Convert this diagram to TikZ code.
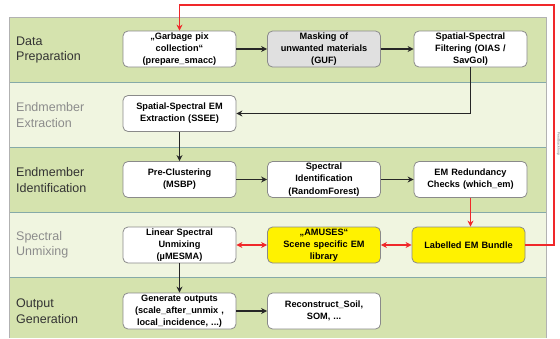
\documentclass[tikz,border=0pt]{standalone}
\usepackage{fontspec}
\setmainfont{Liberation Sans}
\setsansfont{Liberation Sans}
\usetikzlibrary{arrows.meta}
\definecolor{banddark}{HTML}{D5E3AE}
\definecolor{bandlight}{HTML}{F0F5E0}
\definecolor{bandline}{HTML}{86AAA8}
\definecolor{boxline}{HTML}{8A8A8A}
\definecolor{redline}{HTML}{F0282A}
\tikzset{
  proc/.style={draw=boxline, line width=0.8pt, rounded corners=5pt, fill=white,
    minimum width=113pt, minimum height=36pt, text width=110pt, align=center,
    font=\fontsize{9.2}{12.2}\selectfont\bfseries, inner sep=0pt},
  graybox/.style={proc, fill=black!12},
  yellowbox/.style={proc, fill=yellow},
  lab/.style={anchor=west, align=left, font=\fontsize{12.5}{15.5}\selectfont, inner sep=0pt},
  flow/.style={draw=black!85, line width=1.1pt, -{Stealth[length=6pt,width=6pt]}},
  rflow/.style={draw=redline, line width=1.1pt, -{Stealth[length=6pt,width=6pt]}},
  rdbl/.style={draw=redline, line width=1.1pt, {Stealth[length=6pt,width=6pt]}-{Stealth[length=6pt,width=6pt]}},
}
\begin{document}
\begin{tikzpicture}[x=1pt,y=-1pt]
\useasboundingbox (0,0) rectangle (560,338);
% bands
\fill[banddark] (9,17) rectangle (546,82);
\fill[bandlight] (9,82) rectangle (546,147);
\fill[banddark] (9,147) rectangle (546,212);
\fill[bandlight] (9,212) rectangle (546,277);
\fill[banddark] (9,277) rectangle (546,338);
\draw[bandline, line width=1pt] (9,82) -- (546,82) (9,147) -- (546,147) (9,212) -- (546,212) (9,277) -- (546,277);
\draw[black!30, line width=0.8pt] (9,338) -- (9,17) -- (546,17) -- (546,338);
% labels
\node[lab, text=black!80] (l1) at (16,50) {Data\\Preparation};
\node[lab, text=black!45] (l2) at (16,115) {Endmember\\Extraction};
\node[lab, text=black!80] (l3) at (16,180) {Endmember\\Identification};
\node[lab, text=black!45] (l4) at (16,245) {Spectral\\Unmixing};
\node[lab, text=black!80] (l5) at (16,311) {Output\\Generation};
% nodes
\node[proc] (gp) at (179.5,49) {„Garbage pix\\collection“\\(prepare\_smacc)};
\node[graybox] (mask) at (324,49) {Masking of\\unwanted materials\\(GUF)};
\node[proc] (filt) at (470.5,49) {Spatial-Spectral\\Filtering (OIAS /\\SavGol)};
\node[proc] (ssee) at (179.5,113.5) {Spatial-Spectral EM\\Extraction (SSEE)};
\node[proc] (pre) at (179.5,179.5) {Pre-Clustering\\(MSBP)};
\node[proc] (sid) at (324,179.5) {Spectral\\Identification\\(RandomForest)};
\node[proc] (red) at (470.5,179.5) {EM Redundancy\\Checks (which\_em)};
\node[proc] (lsu) at (179.5,245) {Linear Spectral\\Unmixing\\(µMESMA)};
\node[yellowbox] (amu) at (324,245) {„AMUSES“\\Scene specific EM\\library};
\node[yellowbox] (leb) at (468.5,245) {Labelled EM Bundle};
\node[proc] (gen) at (179.5,311) {Generate outputs\\(scale\_after\_unmix ,\\local\_incidence, ...)};
\node[proc] (rec) at (324,311) {Reconstruct\_Soil,\\SOM, ...};
% connectors
\draw[flow] (gp) -- (mask);
\draw[flow] (mask) -- (filt);
\draw[flow] (filt.south) |- (ssee.east);
\draw[flow] (ssee) -- (pre);
\draw[flow] (pre) -- (sid);
\draw[flow] (sid) -- (red);
\draw[rflow] (red) -- (red |- leb.north);
\draw[rdbl] (amu) -- (leb);
\draw[rdbl] (lsu) -- (amu);
\draw[flow] (lsu) -- (gen);
\draw[flow] (gen) -- (rec);
\coordinate (c1) at (554,245);
\coordinate (c2) at (554,5);
\draw[rflow] (leb.east) -- (c1) -- (c2) -| (gp.north);
\node[rotate=-90, font=\fontsize{3.5}{4}\selectfont, text=black!60] (fb) at (558.5,144) {Feedback loop};
\end{tikzpicture}
\end{document}
